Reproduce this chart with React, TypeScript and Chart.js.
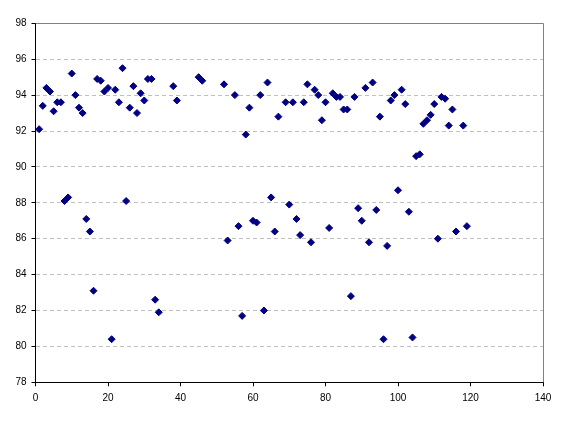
import { useEffect, useRef } from 'react';
import { Chart, registerables } from 'chart.js';

Chart.register(...registerables);

const xValues: number[] = [
  1, 2, 3, 4, 5, 6, 7, 10, 11, 12, 13, 17, 18, 19, 20, 22, 23, 24, 26, 27, 28, 29, 30, 31, 32, 38, 39,
  45, 46, 52, 55, 58, 59, 62, 64, 67, 69, 71, 74, 75, 77, 78, 79, 80, 82, 83, 84, 85, 86, 88, 91, 93,
  95, 98, 99, 101, 102, 105, 106, 107, 108, 109, 110, 112, 113, 114, 115, 118,
  8, 9, 14, 15, 16, 21, 25, 33, 34, 53, 56, 57, 60, 61, 63, 65, 66, 70, 72, 73, 76, 81, 87, 89, 90,
  92, 94, 96, 97, 100, 103, 104, 111, 116, 119,
];
const yValues: number[] = [
  92.1, 93.4, 94.4, 94.2, 93.1, 93.6, 93.6, 95.2, 94.0, 93.3, 93.0, 94.9, 94.8, 94.2, 94.4, 94.3, 93.6,
  95.5, 93.3, 94.5, 93.0, 94.1, 93.7, 94.9, 94.9, 94.5, 93.7,
  95.0, 94.8, 94.6, 94.0, 91.8, 93.3, 94.0, 94.7, 92.8, 93.6, 93.6, 93.6, 94.6, 94.3, 94.0, 92.6, 93.6,
  94.1, 93.9, 93.9, 93.2, 93.2, 93.9, 94.4, 94.7,
  92.8, 93.7, 94.0, 94.3, 93.5, 90.6, 90.7, 92.4, 92.6, 92.9, 93.5, 93.9, 93.8, 92.3, 93.2, 92.3,
  88.1, 88.3, 87.1, 86.4, 83.1, 80.4, 88.1, 82.6, 81.9, 85.9, 86.7, 81.7, 87.0, 86.9, 82.0, 88.3, 86.4,
  87.9, 87.1, 86.2, 85.8, 86.6, 82.8, 87.7, 87.0,
  85.8, 87.6, 80.4, 85.6, 88.7, 87.5, 80.5, 86.0, 86.4, 86.7,
];

const xMin = 0;
const xMax = 140;
const xStep = 20;
const yMin = 78;
const yMax = 98;
const yStep = 2;

const framePlugin = {
  id: 'frame',
  beforeDatasetsDraw(chart: any) {
    const { ctx, chartArea } = chart;
    const l = Math.floor(chartArea.left) + 0.5;
    const r = Math.floor(chartArea.right) + 0.5;
    const t = Math.floor(chartArea.top) + 0.5;
    const b = Math.floor(chartArea.bottom) + 0.5;
    ctx.save();
    ctx.lineWidth = 1;
    ctx.setLineDash([]);
    ctx.strokeStyle = '#808080';
    ctx.beginPath();
    ctx.moveTo(l, t);
    ctx.lineTo(r, t);
    ctx.lineTo(r, b);
    ctx.stroke();
    ctx.strokeStyle = '#000000';
    ctx.beginPath();
    ctx.moveTo(l, t);
    ctx.lineTo(l, b);
    ctx.lineTo(r, b);
    ctx.stroke();
    ctx.restore();
  },
};

const tickFont = { family: '"Liberation Sans", Arial, sans-serif', size: 10 };

export default function App() {
  const ref = useRef<HTMLCanvasElement>(null);
  useEffect(() => {
    document.body.style.margin = '0';
    const chart = new Chart(ref.current as HTMLCanvasElement, {
      type: 'scatter',
      data: {
        datasets: [
          {
            data: xValues.map((x, i) => ({ x, y: yValues[i] })),
            pointStyle: 'rectRot',
            pointRadius: 3.5,
            pointHoverRadius: 3.5,
            pointBackgroundColor: '#000080',
            pointBorderColor: '#000080',
            pointBorderWidth: 1,
          },
        ],
      },
      options: {
        animation: false,
        responsive: false,
        devicePixelRatio: 1,
        events: [],
        layout: { padding: { top: 23.3, right: 23, bottom: 0, left: 0 } },
        plugins: { legend: { display: false }, tooltip: { enabled: false } },
        scales: {
          x: {
            type: 'linear',
            min: xMin,
            max: xMax,
            ticks: { stepSize: xStep, color: '#000', font: tickFont, padding: 6, maxRotation: 0 },
            grid: { drawOnChartArea: false, drawTicks: true, tickLength: 4, tickColor: '#000', tickWidth: 1 },
            border: { display: false },
            afterFit: (s: any) => {
              s.height = 38.7;
            },
          },
          y: {
            type: 'linear',
            min: yMin,
            max: yMax,
            ticks: { stepSize: yStep, color: '#000', font: tickFont, padding: 5 },
            grid: { color: '#c0c0c0', drawTicks: true, tickLength: 4, tickColor: '#000', tickWidth: 1 },
            border: { display: false, dash: [4, 3] },
            afterFit: (s: any) => {
              s.width = 35.5;
            },
          },
        },
      },
      plugins: [framePlugin],
    });
    return () => chart.destroy();
  }, []);
  return (
    <div style={{ position: 'absolute', left: 0, top: 0, width: 566, height: 421, background: '#fff' }}>
      <canvas ref={ref} width={566} height={421} style={{ display: 'block' }} />
    </div>
  );
}
